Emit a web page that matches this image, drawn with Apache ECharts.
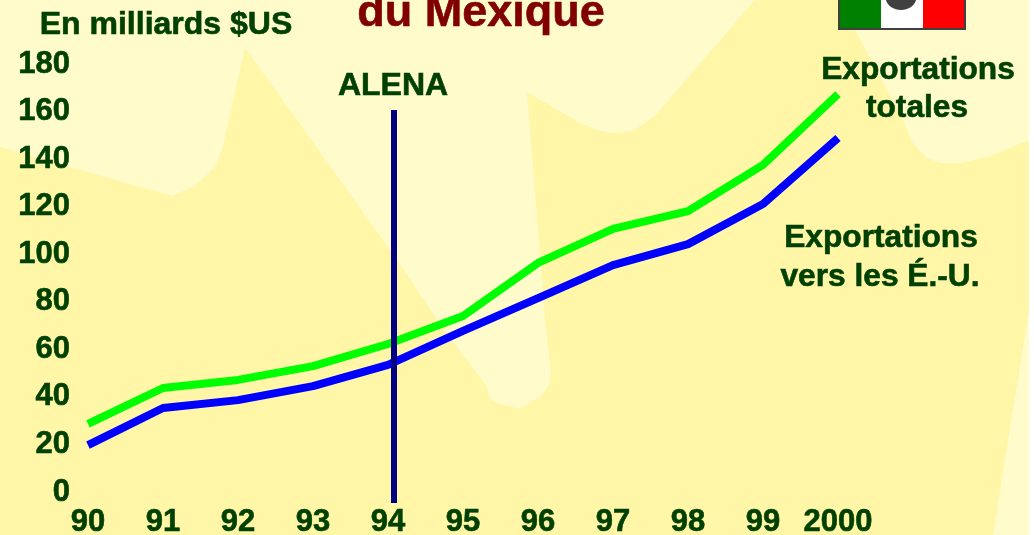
<!DOCTYPE html>
<html><head><meta charset="utf-8">
<style>html,body{margin:0;padding:0;background:#fff}#c{width:1034px;height:535px}</style>
<script src="https://cdn.jsdelivr.net/npm/echarts@6/dist/echarts.min.js"></script>
</head><body><div id="c"></div>
<script>
const yearLabels = ['90','91','92','93','94','95','96','97','98','99','2000'];
const totalExports = [27.8,42.9,46.3,52.1,61.4,73.2,95.5,109.8,117.3,136.7,166.5];
const usExports = [18.9,34.5,37.8,43.7,52.6,66.9,80.7,94.6,103.4,120.3,148];
const alenaLine = [[4.08,-5.5],[4.08,159.8]];
const textColor = '#004000';
const font = 'Liberation Sans, Arial, sans-serif';

const pts = a => a.map((v,i)=>[i,v]);
const txt = (text,x,y,size,fill,align) => ({type:'text',x,y,silent:true,z:5,
  style:{text,fill:fill||textColor,stroke:fill||textColor,lineWidth:0.6,font:`bold ${size}px ${font}`,textAlign:align||'center',textVerticalAlign:'middle'}});

const bgShape = [[0,147],[172,196],[195,186],[215,167],[222,150],[245,48],[300,124],[390,250],[443,328],[487,387],[490,399],[502,405],[520,408],[540,397],[549,386],[551,372],[545,320],[527,92],[580,123],[600,131],[615,133],[633,131],[655,116],[703,60],[755,0],[840,0],[855,30],[902,118],[913,143],[925,157],[940,163],[960,163],[987,157],[1029,140],[1029,310],[993,535],[0,535]];

const chart = echarts.init(document.getElementById('c'),null,{renderer:'canvas'});
chart.setOption({
  animation:false,
  backgroundColor:'#ffffff',
  grid:{left:88,right:196,top:62,height:428,containLabel:false,outerBoundsMode:'none'},
  xAxis:{type:'value',min:0,max:10,interval:1,
    axisLine:{show:false},axisTick:{show:false},splitLine:{show:false},
    axisLabel:{margin:17,color:textColor,fontFamily:font,fontWeight:'bold',fontSize:31,
      textBorderColor:textColor,textBorderWidth:0.6,
      showMinLabel:true,showMaxLabel:true,hideOverlap:false,
      formatter:v=>yearLabels[v]}},
  yAxis:{type:'value',min:0,max:180,interval:20,
    axisLine:{show:false},axisTick:{show:false},splitLine:{show:false},
    axisLabel:{margin:18,color:textColor,fontFamily:font,fontWeight:'bold',fontSize:31,
      textBorderColor:textColor,textBorderWidth:0.6,verticalAlign:'top',lineHeight:4}},
  series:[
    {name:'Exportations totales',type:'line',data:pts(totalExports),symbol:'none',clip:true,z:3,
      lineStyle:{color:'#00ff00',width:8,cap:'butt',join:'bevel'}},
    {name:'Exportations vers les É.-U.',type:'line',data:pts(usExports),symbol:'none',clip:true,z:3,
      lineStyle:{color:'#0000ff',width:8,cap:'butt',join:'bevel'}},
    {name:'ALENA',type:'line',data:alenaLine,symbol:'none',clip:false,z:4,
      lineStyle:{color:'#000080',width:6,cap:'butt'}}
  ],
  graphic:{elements:[
    {type:'rect',z:-10,silent:true,shape:{x:0,y:0,width:1029,height:535},style:{fill:'#fffbcb'}},
    {type:'polygon',z:-9,silent:true,shape:{points:bgShape},style:{fill:'#fff6a8'}},
    {type:'rect',z:1,silent:true,shape:{x:838,y:-2,width:128,height:32},style:{fill:'#404040'}},
    {type:'rect',z:2,silent:true,shape:{x:840,y:-2,width:41,height:30},style:{fill:'#008000'}},
    {type:'rect',z:2,silent:true,shape:{x:881,y:-2,width:42,height:30},style:{fill:'#ffffff'}},
    {type:'rect',z:2,silent:true,shape:{x:923,y:-2,width:41,height:30},style:{fill:'#ff0000'}},
    {type:'ellipse',z:3,silent:true,shape:{cx:901,cy:-3,rx:15.5,ry:13},style:{fill:'#404040'}},
    txt('du Mexique',481,14,45,'#800000'),
    txt('En milliards $US',166,25,32),
    txt('ALENA',393,86,32),
    txt('Exportations',918,70,31.7),
    txt('totales',917,108,31.7),
    txt('Exportations',881,238,31.7),
    txt('vers les É.-U.',880,277,31.7)
  ]}
});
</script></body></html>
